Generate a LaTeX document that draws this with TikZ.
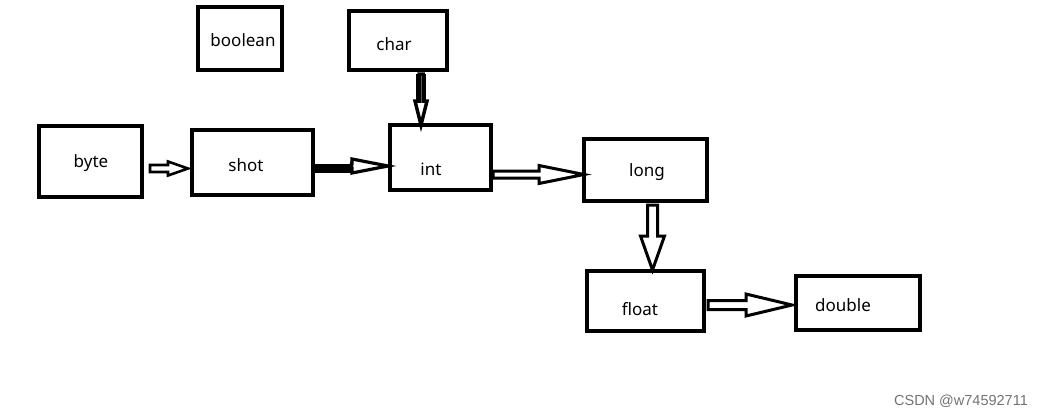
\documentclass[tikz,border=0pt]{standalone}
\usepackage{fontspec}
\setmainfont{Noto Sans}
\newfontfamily\wmfont{Liberation Sans}
\usetikzlibrary{calc}
% horizontal block arrow: #1 start, #2 end, #3 shaft half, #4 head half, #5 head length, #6 style
\newcommand\harrow[6]{%
  \path[#6] let \p1=(#1), \p2=(#2) in
    (\x1,\y1+#3) -- (\x2-#5,\y1+#3) -- (\x2-#5,\y1+#4) -- (\x2,\y1)
    -- (\x2-#5,\y1-#4) -- (\x2-#5,\y1-#3) -- (\x1,\y1-#3) -- cycle;}
% vertical (downward) block arrow
\newcommand\varrow[6]{%
  \path[#6] let \p1=(#1), \p2=(#2) in
    (\x1+#3,\y1) -- (\x1+#3,\y2+#5) -- (\x1+#4,\y2+#5) -- (\x1,\y2)
    -- (\x1-#4,\y2+#5) -- (\x1-#3,\y2+#5) -- (\x1-#3,\y1) -- cycle;}
\tikzset{
  box/.style={draw, line width=4pt, rectangle, inner sep=0pt},
  lbl/.style={inner sep=0pt, font=\fontsize{17}{19}\selectfont},
  hollow/.style={draw, line width=3pt, fill=white, line join=miter},
}
\begin{document}
\begin{tikzpicture}[x=1pt,y=-1pt]
\useasboundingbox[fill=white] (0,0) rectangle (1045,416);
% boxes
\node[box, minimum width=84pt, minimum height=63pt] (booleanbox) at (240,38.5) {};
\node[box, minimum width=98pt, minimum height=59pt] (charbox) at (398,40.5) {};
\node[box, minimum width=103pt, minimum height=71pt] (bytebox) at (90.5,161.5) {};
\node[box, minimum width=121pt, minimum height=65pt] (shotbox) at (252.5,162.5) {};
\node[box, minimum width=101pt, minimum height=65pt] (intbox) at (440.5,157.5) {};
\node[box, minimum width=123pt, minimum height=62pt] (longbox) at (645.5,170) {};
\node[box, minimum width=117pt, minimum height=60pt] (floatbox) at (645.5,301) {};
\node[box, minimum width=124pt, minimum height=54pt] (doublebox) at (858,303) {};
% labels
\node[lbl] (boolean) at (243,40) {boolean};
\node[lbl] (char) at (394,44) {char};
\node[lbl] (byte) at (91,163) {byte};
\node[lbl] (shot) at (246,165) {shot};
\node[lbl] (int) at (431,169) {int};
\node[lbl] (long) at (647,172) {long};
\node[lbl] (float) at (640,309) {float};
\node[lbl] (double) at (843,305) {double};
% anchors for connectors
\coordinate (a1s) at ($(bytebox.east)+(6,7)$);
\coordinate (a1e) at ($(shotbox.west)+(-2,6)$);
\coordinate (a2s) at ($(shotbox.east)+(0,6)$);
\coordinate (a2e) at ($(intbox.west)+(0,11)$);
\coordinate (a2m) at ($(shotbox.east)!0.5!(intbox.west)+(0,6)$);
\coordinate (a3s) at ($(charbox.south)+(23,2)$);
\coordinate (a3e) at ($(intbox.north)+(-19,2)$);
\coordinate (a4s) at ($(intbox.east)+(0,17)$);
\coordinate (a4e) at ($(longbox.west)+(2,5)$);
\coordinate (a5s) at ($(longbox.south)+(7,2)$);
\coordinate (a5e) at ($(floatbox.north)+(7,1)$);
\coordinate (a6s) at ($(floatbox.east)+(2,4)$);
\coordinate (a6e) at ($(doublebox.west)+(-2,2)$);
% byte -> shot
\harrow{a1s}{a1e}{3.5pt}{7pt}{20pt}{hollow, line width=2.6pt}
% shot -> int
\fill let \p1=(a2s), \p2=(a2m) in (\x1,\y1-4.5) rectangle (\x2+8,\y1+4.5);
\harrow{a2m}{a2e}{2.5pt}{7pt}{36pt}{hollow, line width=3.2pt}
% char -> int
\fill let \p1=(a3s) in (\x1-5,\y1) rectangle (\x1+5,\y1-32);
\varrow{a3s}{a3e}{2pt}{6pt}{24pt}{hollow, line width=3.5pt}
% int -> long
\harrow{a4s}{a4e}{3.5pt}{9pt}{45pt}{hollow}
% long -> float
\varrow{a5s}{a5e}{5pt}{12pt}{34pt}{hollow}
% float -> double
\harrow{a6s}{a6e}{4.5pt}{11pt}{46pt}{hollow}
% watermark
\node[font=\wmfont\fontsize{14.5}{16}\selectfont, text=black!55, inner sep=0pt] (wm) at (961,401) {CSDN @w74592711};
\end{tikzpicture}
\end{document}
